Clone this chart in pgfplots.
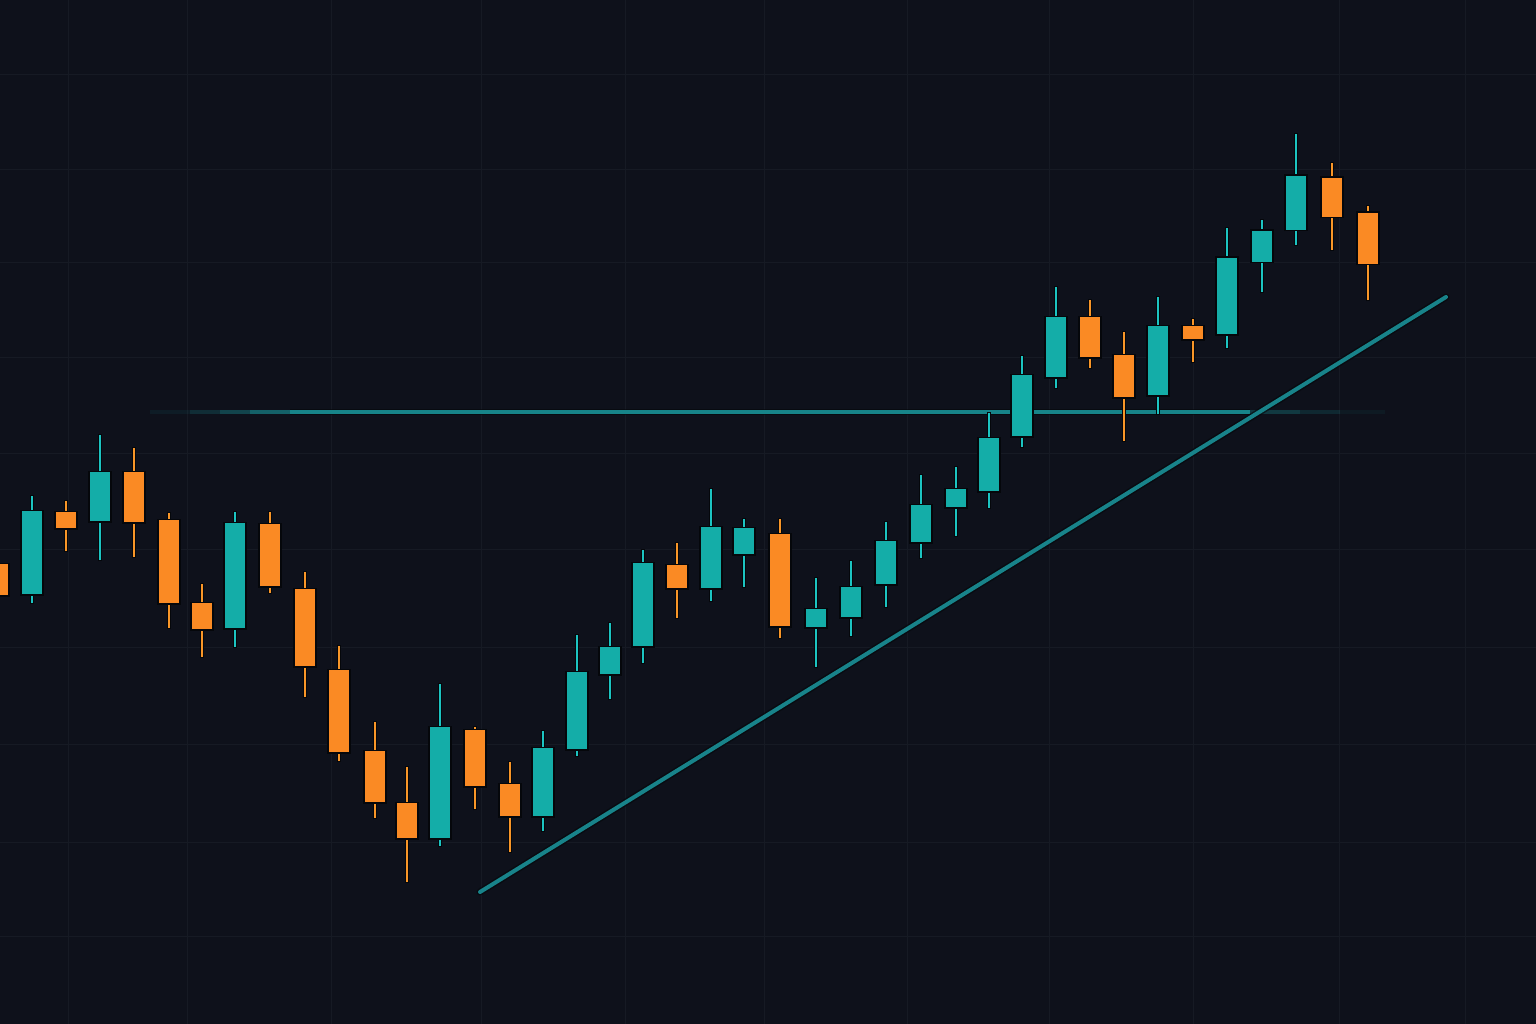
\documentclass[border=0pt]{standalone}
\usepackage{pgfplots}
\pgfplotsset{compat=1.18}
\usepackage{pgfplotstable}
\definecolor{bg}{HTML}{0E111B}
\definecolor{gridc}{HTML}{161A24}
\definecolor{upbody}{HTML}{14ADA8}
\definecolor{upwick}{HTML}{1CC4C2}
\definecolor{dnbody}{HTML}{FA8A24}
\definecolor{dnwick}{HTML}{F99628}
\definecolor{edge}{HTML}{05070B}
\definecolor{resline}{HTML}{178489}
\definecolor{trend}{HTML}{18838A}

% columns: x (pixel), body top, body bottom, high, low  (pixel scale, y down)
\pgfplotstableread{
x    top  bot  hi   lo
32   511  594  496  603
100  472  521  435  560
235  523  628  512  647
440  727  838  684  846
543  748  816  731  831
577  672  749  635  756
610  647  674  623  699
643  563  646  550  663
711  527  588  489  601
744  528  554  519  587
816  609  627  578  667
851  587  617  561  636
886  541  584  522  607
921  505  542  475  558
956  489  507  467  536
989  438  491  413  508
1022 375  436  356  447
1056 317  377  287  388
1158 326  395  297  414
1227 258  334  228  348
1262 231  262  220  292
1296 176  230  134  245
}\up

\pgfplotstableread{
x    top  bot  hi   lo
-2   564  595  555  602
66   512  528  501  551
134  472  522  448  557
169  520  603  513  628
202  603  629  584  657
270  524  586  512  593
305  589  666  572  697
339  670  752  646  761
375  751  802  722  818
407  803  838  767  882
475  730  786  727  809
510  784  816  762  852
677  565  588  543  618
780  534  626  519  638
1090 317  357  300  368
1124 355  397  332  441
1193 326  339  319  362
1332 178  217  163  250
1368 213  264  206  300
}\down

\pgfplotsset{
  wick/.style 2 args={draw=none, mark=none, forget plot,
    error bars/.cd, y dir=minus, y explicit, error mark=none,
    error bar style={draw=#1, line width=#2, line cap=butt}},
}

\begin{document}
\begin{tikzpicture}
\begin{axis}[
  name=ax,
  width=1536pt, height=1024pt, scale only axis,
  xmin=0, xmax=1536, ymin=0, ymax=1024,
  y dir=reverse,
  axis line style={draw=none},
  major tick length=0pt,
  xtick={68,187,331,481,625,764,907,1049,1193,1339,1465},
  ytick={75,170,263,357,453,549,647,744,842,936},
  xticklabels={}, yticklabels={},
  grid=major,
  grid style={draw=gridc, line width=1pt},
  axis background/.style={fill=bg},
  clip=true,
]
% resistance line (fading ends)
\addplot[draw=edge, line width=6pt, opacity=0.6, forget plot] coordinates {(290,412) (1250,412)};
\addplot[draw=resline, line width=3.2pt, opacity=0.10, forget plot] coordinates {(150,412) (190,412)};
\addplot[draw=resline, line width=3.2pt, opacity=0.25, forget plot] coordinates {(190,412) (220,412)};
\addplot[draw=resline, line width=3.2pt, opacity=0.45, forget plot] coordinates {(220,412) (250,412)};
\addplot[draw=resline, line width=3.2pt, opacity=0.70, forget plot] coordinates {(250,412) (290,412)};
\addplot[draw=resline, line width=3.2pt, forget plot] coordinates {(290,412) (1250,412)};
\addplot[draw=resline, line width=3.2pt, opacity=0.35, forget plot] coordinates {(1250,412) (1300,412)};
\addplot[draw=resline, line width=3.2pt, opacity=0.20, forget plot] coordinates {(1300,412) (1340,412)};
\addplot[draw=resline, line width=3.2pt, opacity=0.08, forget plot] coordinates {(1340,412) (1385,412)};
% trend line
\addplot[draw=edge, line width=7pt, opacity=0.6, line cap=round, forget plot] coordinates {(480,892) (1446,297)};
\addplot[draw=trend, line width=4pt, line cap=round, forget plot] coordinates {(480,892) (1446,297)};

% wicks
\addplot[wick={edge}{4.6pt}] table[x=x, y expr=\thisrow{lo}+1, y error minus expr=\thisrow{lo}-\thisrow{hi}+2] {\up};
\addplot[wick={upwick}{2.8pt}] table[x=x, y=lo, y error minus expr=\thisrow{lo}-\thisrow{hi}] {\up};
\addplot[wick={edge}{4.6pt}] table[x=x, y expr=\thisrow{lo}+1, y error minus expr=\thisrow{lo}-\thisrow{hi}+2] {\down};
\addplot[wick={dnwick}{2.8pt}] table[x=x, y=lo, y error minus expr=\thisrow{lo}-\thisrow{hi}] {\down};

% bodies
\addplot[wick={edge}{23.5pt}] table[x=x, y expr=\thisrow{bot}+1.5, y error minus expr=\thisrow{bot}-\thisrow{top}+3] {\up};
\addplot[wick={upbody}{20.5pt}] table[x=x, y=bot, y error minus expr=\thisrow{bot}-\thisrow{top}] {\up};
\addplot[wick={edge}{23.5pt}] table[x=x, y expr=\thisrow{bot}+1.5, y error minus expr=\thisrow{bot}-\thisrow{top}+3] {\down};
\addplot[wick={dnbody}{20.5pt}] table[x=x, y=bot, y error minus expr=\thisrow{bot}-\thisrow{top}] {\down};
\end{axis}
\pgfresetboundingbox
\path[use as bounding box] (ax.south west) rectangle (ax.north east);
\end{tikzpicture}
\end{document}
